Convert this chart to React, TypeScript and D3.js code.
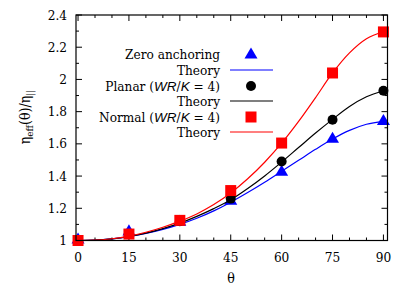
import * as d3 from "d3";

// measured points
const angles = [0, 15, 30, 45, 60, 75, 90];
const zeroAnchoring = [1.01, 1.06, 1.12, 1.25, 1.43, 1.635, 1.745];
const planar = [1.0, 1.04, 1.12, 1.26, 1.49, 1.75, 1.93];
const normal = [1.0, 1.04, 1.125, 1.31, 1.605, 2.04, 2.295];

// theory curves, read every 5 degrees
const theoryAngles = [0, 5, 10, 15, 20, 25, 30, 35, 40, 45, 50, 55, 60, 65, 70, 75, 80, 85, 90];
const zeroTheory = [1.0, 1.002, 1.01, 1.024, 1.044, 1.069, 1.1, 1.138, 1.184, 1.238, 1.298, 1.362, 1.43, 1.498, 1.566, 1.63, 1.684, 1.722, 1.74];
const planarTheory = [1.0, 1.002, 1.01, 1.025, 1.046, 1.074, 1.108, 1.15, 1.198, 1.253, 1.323, 1.401, 1.487, 1.577, 1.667, 1.752, 1.832, 1.892, 1.93];
const normalTheory = [1.0, 1.002, 1.011, 1.027, 1.051, 1.082, 1.12, 1.165, 1.223, 1.295, 1.383, 1.486, 1.604, 1.739, 1.887, 2.04, 2.165, 2.253, 2.296];

const xTicks = [0, 15, 30, 45, 60, 75, 90];
const yTicks = [1, 1.2, 1.4, 1.6, 1.8, 2, 2.2, 2.4];

const width = 415;
const height = 290;
const left = 76;
const right = 387.5;
const top = 15;
const bottom = 240.5;

const serif = "'DejaVu Serif Condensed', 'DejaVu Serif', serif";
const sans = "'Liberation Sans', Arial, sans-serif";

export default function App() {
  const x = d3.scaleLinear().domain([-0.6, 91.2]).range([left, right]);
  const y = d3.scaleLinear().domain([1, 2.4]).range([bottom, top]);

  const line = d3
    .line<number>()
    .x((_, i) => x(theoryAngles[i]))
    .y((d) => y(d))
    .curve(d3.curveMonotoneX);

  const xMinor = d3.range(0, 91, 5);
  const yMinor = d3.range(1, 2.401, 0.1);

  const triangle = (cx: number, cy: number, s = 6.5) =>
    `M${cx},${cy - s}L${cx + s},${cy + s * 0.7}L${cx - s},${cy + s * 0.7}Z`;

  const series = [
    { vals: zeroAnchoring, theory: zeroTheory, color: "#0000ff", mark: "tri" },
    { vals: planar, theory: planarTheory, color: "#000000", mark: "circ" },
    { vals: normal, theory: normalTheory, color: "#ff0000", mark: "sq" },
  ];

  const drawMark = (mark: string, cx: number, cy: number, color: string, key: string) => {
    if (mark === "tri") return <path key={key} d={triangle(cx, cy)} fill={color} />;
    if (mark === "circ") return <circle key={key} cx={cx} cy={cy} r={5} fill={color} />;
    return <rect key={key} x={cx - 5.5} y={cy - 5.5} width={11} height={11} fill={color} />;
  };

  const it = { fontFamily: sans, fontStyle: "italic" as const };
  const legendRows = [
    { label: <>Zero anchoring</>, mark: "tri", color: "#0000ff" },
    { label: <>Theory</>, mark: "line", color: "#0000ff" },
    {
      label: (
        <>
          Planar (<tspan style={it}>WR</tspan>/<tspan style={it}>K</tspan> = 4)
        </>
      ),
      mark: "circ",
      color: "#000000",
    },
    { label: <>Theory</>, mark: "line", color: "#000000" },
    {
      label: (
        <>
          Normal (<tspan style={it}>WR</tspan>/<tspan style={it}>K</tspan> = 4)
        </>
      ),
      mark: "sq",
      color: "#ff0000",
    },
    { label: <>Theory</>, mark: "line", color: "#ff0000" },
  ];
  const legendY = [54, 70, 86, 101, 117, 132];
  const txt = { fontFamily: serif };

  return (
    <svg
      width={width}
      height={height}
      style={{ position: "absolute", left: 0, top: 0, background: "#fff", fontFamily: serif }}
    >
      <rect width={width} height={height} fill="#fff" />

      {/* ticks */}
      <g stroke="#000" strokeWidth={1}>
        {xMinor.map((t) => {
          const len = t % 15 === 0 ? 6 : 3;
          return (
            <g key={"xm" + t}>
              <line x1={x(t)} x2={x(t)} y1={bottom} y2={bottom - len} />
              <line x1={x(t)} x2={x(t)} y1={top} y2={top + len} />
            </g>
          );
        })}
        {yMinor.map((t, i) => {
          const len = i % 2 === 0 ? 6 : 3;
          return (
            <g key={"ym" + i}>
              <line x1={left} x2={left + len} y1={y(t)} y2={y(t)} />
              <line x1={right} x2={right - len} y1={y(t)} y2={y(t)} />
            </g>
          );
        })}
      </g>

      {/* tick labels */}
      <g fontSize={13.5} fill="#000">
        {xTicks.map((t) => (
          <text key={"xl" + t} style={txt} x={x(t)} y={262} textAnchor="middle">
            {t}
          </text>
        ))}
        {yTicks.map((t) => (
          <text key={"yl" + t} style={txt} x={67} y={y(t) + 4.5} textAnchor="end">
            {d3.format("~g")(t)}
          </text>
        ))}
      </g>

      {/* axis titles */}
      <text style={txt} x={231} y={283} fontSize={14} textAnchor="middle">
        θ
      </text>
      <text style={txt} transform="translate(30,117) rotate(-90)" fontSize={14} textAnchor="middle">
        η<tspan fontSize={10} dy={3}>eff</tspan>
        <tspan dy={-3}>(θ)/η</tspan>
        <tspan fontSize={10} dy={3}>||</tspan>
      </text>

      {/* data */}
      {series.map((s, si) => (
        <g key={"s" + si}>
          {s.vals.map((v, i) => drawMark(s.mark, x(angles[i]), y(v), s.color, `m${si}-${i}`))}
          <path d={line(s.theory) ?? ""} fill="none" stroke={s.color} strokeWidth={1.2} />
        </g>
      ))}

      {/* legend */}
      <g fontSize={13.5}>
        {legendRows.map((r, i) => (
          <g key={"lg" + i}>
            <text style={txt} x={220} y={legendY[i] + 4.5} textAnchor="end">
              {r.label}
            </text>
            {r.mark === "line" ? (
              <line x1={230} x2={273} y1={legendY[i]} y2={legendY[i]} stroke={r.color} strokeWidth={1.2} />
            ) : (
              drawMark(r.mark, 251, legendY[i], r.color, "lm" + i)
            )}
          </g>
        ))}
      </g>

      {/* frame */}
      <rect x={left} y={top} width={right - left} height={bottom - top} fill="none" stroke="#000" strokeWidth={1.2} />
    </svg>
  );
}
